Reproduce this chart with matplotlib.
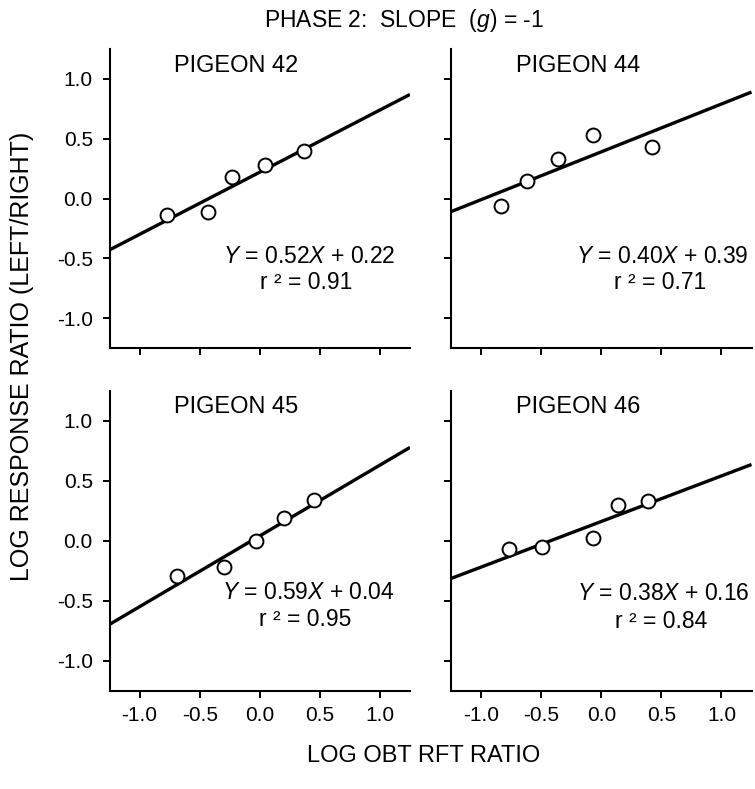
# Phase 2 matching-law fits: log response ratio vs log obtained reinforcer ratio,
# one panel per pigeon, open circles plus the fitted regression line.

import matplotlib
matplotlib.use("Agg")
import matplotlib.pyplot as plt

plt.rcParams["font.family"] = ["Liberation Sans", "DejaVu Sans"]
plt.rcParams["mathtext.fontset"] = "custom"
plt.rcParams["mathtext.rm"] = "Liberation Sans"
plt.rcParams["mathtext.it"] = "Liberation Sans:italic"

# ── data ────────────────────────────────────────────────────────────────────
pigeons = ["PIGEON 42", "PIGEON 44", "PIGEON 45", "PIGEON 46"]

x_42 = [-0.77, -0.43, -0.23, 0.04, 0.37]
y_42 = [-0.14, -0.11, 0.18, 0.28, 0.40]

x_44 = [-0.83, -0.62, -0.36, -0.07, 0.42]
y_44 = [-0.06, 0.15, 0.33, 0.53, 0.43]

x_45 = [-0.69, -0.30, -0.03, 0.20, 0.45]
y_45 = [-0.29, -0.22, 0.00, 0.19, 0.34]

x_46 = [-0.77, -0.49, -0.07, 0.14, 0.39]
y_46 = [-0.07, -0.05, 0.02, 0.30, 0.33]

slopes = [0.52, 0.40, 0.59, 0.38]
intercepts = [0.22, 0.39, 0.04, 0.16]
r_squared = [0.91, 0.71, 0.95, 0.84]

ticks = [-1.0, -0.5, 0.0, 0.5, 1.0]
tick_labels = ["-1.0", "-0.5", "0.0", "0.5", "1.0"]

xs = [x_42, x_44, x_45, x_46]
ys = [y_42, y_44, y_45, y_46]

W, H = 755, 789
fig = plt.figure(figsize=(W / 100, H / 100), dpi=100)

axes_px = [  # left, top, right, bottom in pixels
    (109.5, 49, 410, 348),
    (451, 49, 751.5, 348),
    (109.5, 390.7, 410, 690.7),
    (451, 390.7, 751.5, 690.7),
]
# equation / r^2 text anchors in data coords: (x center, y eq, y r2)
text_pos = [
    (0.41, -0.485, -0.70),
    (0.51, -0.485, -0.70),
    (0.40, -0.43, -0.655),
    (0.52, -0.44, -0.675),
]

for i, (l, t, r, b) in enumerate(axes_px):
    ax = fig.add_axes([l / W, 1 - b / H, (r - l) / W, (b - t) / H])
    ax.set_xlim(-1.25, 1.25)
    ax.set_ylim(-1.25, 1.25)

    ax.axline((0, intercepts[i]), slope=slopes[i], color="black", lw=2.4,
              solid_capstyle="butt", zorder=2)
    ax.plot(xs[i], ys[i], "o", ms=10, mfc="white", mec="black", mew=1.4,
            zorder=3)

    for side in ("top", "right"):
        ax.spines[side].set_visible(False)
    for side in ("left", "bottom"):
        ax.spines[side].set_linewidth(1.5)

    ax.set_xticks(ticks)
    ax.set_yticks(ticks)
    ax.tick_params(direction="out", length=5, width=1.4, labelsize=15)
    ax.tick_params(axis="y", pad=7)
    ax.tick_params(axis="x", pad=6)
    if i < 2:
        ax.set_xticklabels([])
    else:
        ax.set_xticklabels(tick_labels)
    if i % 2 == 1:
        ax.set_yticklabels([])
    else:
        ax.set_yticklabels(tick_labels)

    ax.text(-0.71, 1.11, pigeons[i], ha="left", va="center", fontsize=17)

    cx, y_eq, y_r2 = text_pos[i]
    ax.text(cx, y_eq, f"$Y$ = {slopes[i]:.2f}$X$ + {intercepts[i]:.2f}",
            ha="center", va="center", fontsize=16.5)
    ax.text(cx - 0.02, y_r2, f"r ² = {r_squared[i]:.2f}",
            ha="center", va="center", fontsize=16.5)

# ── shared labels and title ──────────────────────────────────────────────────
fig.text(404 / W, 1 - 21 / H, "PHASE 2:  SLOPE  ($g$) = -1",
         ha="center", va="center", fontsize=16.5)
fig.text(424 / W, 1 - 756 / H, "LOG OBT RFT RATIO",
         ha="center", va="center", fontsize=17)
fig.text(22.5 / W, 1 - 356 / H, "LOG RESPONSE RATIO (LEFT/RIGHT)",
         ha="center", va="center", rotation=90, fontsize=18)

fig.savefig("out.png", dpi=100)
